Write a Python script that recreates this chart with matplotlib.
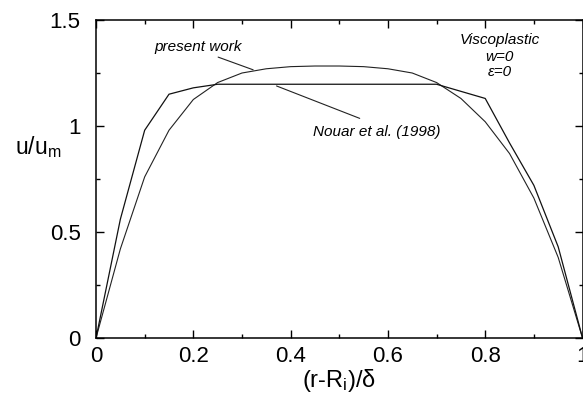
import matplotlib

matplotlib.use("Agg")
import matplotlib.pyplot as plt
from matplotlib.ticker import MultipleLocator

plt.rcParams["font.family"] = ["Liberation Sans", "DejaVu Sans"]
plt.rcParams["mathtext.fontset"] = "custom"
plt.rcParams["mathtext.rm"] = "Liberation Sans"
plt.rcParams["mathtext.it"] = "Liberation Sans:italic"

# velocity profiles across the annular gap
x_present = [0.0, 0.05, 0.1, 0.15, 0.2, 0.25, 0.3, 0.35, 0.4, 0.45, 0.5,
             0.55, 0.6, 0.65, 0.7, 0.75, 0.8, 0.85, 0.9, 0.95, 1.0]
u_present = [0.0, 0.42, 0.76, 0.98, 1.125, 1.205, 1.25, 1.27, 1.28, 1.283, 1.283,
             1.28, 1.27, 1.25, 1.205, 1.13, 1.02, 0.87, 0.66, 0.38, 0.0]

x_nouar = [0.0, 0.05, 0.1, 0.15, 0.2, 0.25, 0.7, 0.8, 0.85, 0.9, 0.95, 1.0]
u_nouar = [0.0, 0.56, 0.98, 1.15, 1.18, 1.197, 1.197, 1.13, 0.92, 0.72, 0.43, 0.0]

fig = plt.figure(figsize=(5.83, 4.01), dpi=100)
ax = fig.add_axes([0.1647, 0.1571, 0.8345, 0.793])

ax.plot(x_present, u_present, color="#222222", lw=0.8)
ax.plot(x_nouar, u_nouar, color="#111111", lw=0.9)

ax.set_xlim(0, 1)
ax.set_ylim(0, 1.5)
ax.xaxis.set_minor_locator(MultipleLocator(0.1))
ax.yaxis.set_minor_locator(MultipleLocator(0.25))
ax.set_xticks([0, 0.2, 0.4, 0.6, 0.8, 1.0])
ax.set_xticklabels(["0", "0.2", "0.4", "0.6", "0.8", "1"])
ax.set_yticks([0, 0.5, 1.0, 1.5])
ax.set_yticklabels(["0", "0.5", "1", "1.5"])
ax.tick_params(which="both", direction="in", top=True, right=True,
               labelsize=16, width=1.0)
ax.tick_params(axis="x", which="major", length=6, pad=6)
ax.tick_params(axis="y", which="major", length=6, pad=11)
ax.tick_params(which="minor", length=3)
for s in ax.spines.values():
    s.set_linewidth(1.1)

ax.set_ylabel("u/u$_{\\mathrm{m}}$", fontsize=16.5, rotation=0, labelpad=0)
ax.yaxis.set_label_coords(-0.12, 0.56)
ax.set_xlabel("(r-R$_{\\mathrm{i}}$)/\u03b4", fontsize=17, labelpad=0)

# curve labels and their pointer lines
line_kw = dict(arrowstyle="-", lw=0.8, color="#222222", shrinkA=0, shrinkB=0)
ax.text(0.21, 1.375, "present work", fontsize=11, style="italic",
        ha="center", va="center")
ax.annotate("", xy=(0.323, 1.265), xytext=(0.251, 1.325), arrowprops=line_kw)
ax.text(0.576, 0.973, "Nouar et al. (1998)", fontsize=11, style="italic",
        ha="center", va="center")
ax.annotate("", xy=(0.371, 1.189), xytext=(0.542, 1.036), arrowprops=line_kw)

ax.text(0.83, 1.405, "Viscoplastic", fontsize=11, style="italic",
        ha="center", va="center")
ax.text(0.83, 1.325, "w=0", fontsize=11, style="italic",
        ha="center", va="center")
ax.text(0.83, 1.257, "\u03b5=0", fontsize=11, style="italic",
        ha="center", va="center")

fig.savefig("out.png", dpi=100)
